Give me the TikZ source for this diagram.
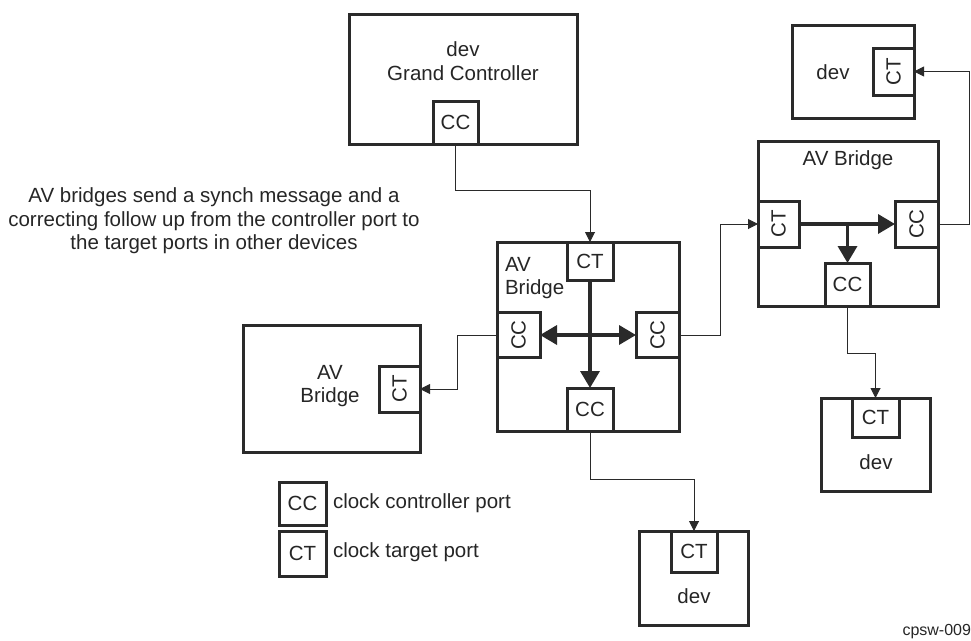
\documentclass[tikz,border=0pt]{standalone}
\usepackage{fontspec}
\setmainfont{Liberation Sans}
\usetikzlibrary{arrows.meta,calc}
\definecolor{ink}{HTML}{2A2A2A}
\definecolor{txt}{HTML}{262626}
\begin{document}
\begin{tikzpicture}[x=1pt,y=-1pt,
  every node/.style={text=txt,font=\fontsize{20.5}{23.5}\selectfont,inner sep=0pt,outer sep=0pt},
  box/.style={draw=ink,line width=3pt,fill=white},
  port/.style={draw=ink,line width=3pt,fill=white},
  lbl/.style={},
  conn/.style={draw=ink,line width=1pt,-{Triangle[length=10pt,width=10pt]}},
  big/.style={draw=ink,line width=3.5pt,-{Triangle[length=17pt,width=19pt]}},
  bigd/.style={draw=ink,line width=3.5pt,{Triangle[length=17pt,width=19pt]}-{Triangle[length=17pt,width=19pt]}}]
\useasboundingbox (0,0) rectangle (971,640);

% Grand controller
\node[box,minimum width=228pt,minimum height=130pt] (gc) at (463,79) {};
\node[lbl,align=center] (gct) at (463,61) {dev\\Grand Controller};
\node[port,minimum width=45pt,minimum height=43pt] (gccc) at (455.5,122.5) {CC};

% center bridge
\node[box,minimum width=182pt,minimum height=189pt] (cb) at (588,336.5) {};
\node[lbl,align=left,anchor=west] (cbt) at (505,278) {AV\\Bridge};
\node[port,minimum width=46pt,minimum height=38pt] (cbct) at (590,261) {CT};
\node[port,minimum width=43pt,minimum height=45pt] (cbccl) at (518.5,335) {\rotatebox{90}{CC}};
\node[port,minimum width=43pt,minimum height=45pt] (cbccr) at (657.5,335) {\rotatebox{90}{CC}};
\node[port,minimum width=46pt,minimum height=43pt] (cbccb) at (590,409.5) {CC};
\draw[big] (cbct.south) -- (cbccb.north);
\draw[bigd] (cbccl.east) -- (cbccr.west);

% left bridge
\node[box,minimum width=177pt,minimum height=127pt] (lb) at (331.5,388.5) {};
\node[lbl,align=center] (lbt) at (330,386) {AV\\Bridge};
\node[port,minimum width=41pt,minimum height=46pt] (lbct) at (399.5,389) {\rotatebox{90}{CT}};

% right bridge
\node[box,minimum width=180pt,minimum height=165pt] (rb) at (848,223.5) {};
\node[lbl] (rbt) at (848,160) {AV Bridge};
\node[port,minimum width=41pt,minimum height=46pt] (rbct) at (778.5,224) {\rotatebox{90}{CT}};
\node[port,minimum width=43pt,minimum height=46pt] (rbccr) at (916.5,224) {\rotatebox{90}{CC}};
\node[port,minimum width=45pt,minimum height=43pt] (rbccb) at (847.5,284.5) {CC};
\coordinate (rbj) at (rbccb.north |- rbct.east);
\draw[big] (rbct.east) -- (rbccr.west);
\draw[big] (rbj) -- (rbccb.north);

% top right dev
\node[box,minimum width=122pt,minimum height=93pt] (trd) at (853,71.5) {};
\node[lbl] (trdt) at (833,72) {dev};
\node[port,minimum width=41pt,minimum height=47pt] (trdct) at (893.5,71.5) {\rotatebox{90}{CT}};

% right dev
\node[box,minimum width=109pt,minimum height=93pt] (rd) at (875.5,444.5) {};
\node[lbl] (rdt) at (876,462) {dev};
\node[port,minimum width=47pt,minimum height=39pt] (rdct) at (875.5,417.5) {CT};

% bottom dev
\node[box,minimum width=109pt,minimum height=94pt] (bd) at (693.5,578) {};
\node[lbl] (bdt) at (694,596) {dev};
\node[port,minimum width=46pt,minimum height=41pt] (bdct) at (694,551.5) {CT};

% connectors
\draw[conn] (gccc.south) -- ++(0,46) -| (cbct.north);
\draw[conn] (cbccr.east) -- ++(41,0) |- (rbct.west);
\draw[conn] (cbccl.west) -- ++(-40,0) |- (lbct.east);
\draw[conn] (cbccb.south) -- ++(0,48) -| (bdct.north);
\draw[conn] (rbccb.south) -- ++(0,47) -| (rdct.north);
\draw[conn] (rbccr.east) -- ++(31,0) |- (trdct.east);

% annotation
\node[lbl,align=center] (note) at (214,221) {AV bridges send a synch message and a\\correcting follow up from the controller port to\\the target ports in other devices};

% legend
\node[port,minimum width=47pt,minimum height=43pt] (lgcc) at (302.5,503.5) {CC};
\node[port,minimum width=47pt,minimum height=45pt] (lgct) at (302.5,553.5) {CT};
\node[lbl,anchor=west] (lgcct) at (333,503) {clock controller port};
\node[lbl,anchor=west] (lgctt) at (333,552) {clock target port};

\node[lbl,anchor=south east,font=\fontsize{16}{18}\selectfont] (fig) at (971,639) {cpsw-009};
\end{tikzpicture}
\end{document}
